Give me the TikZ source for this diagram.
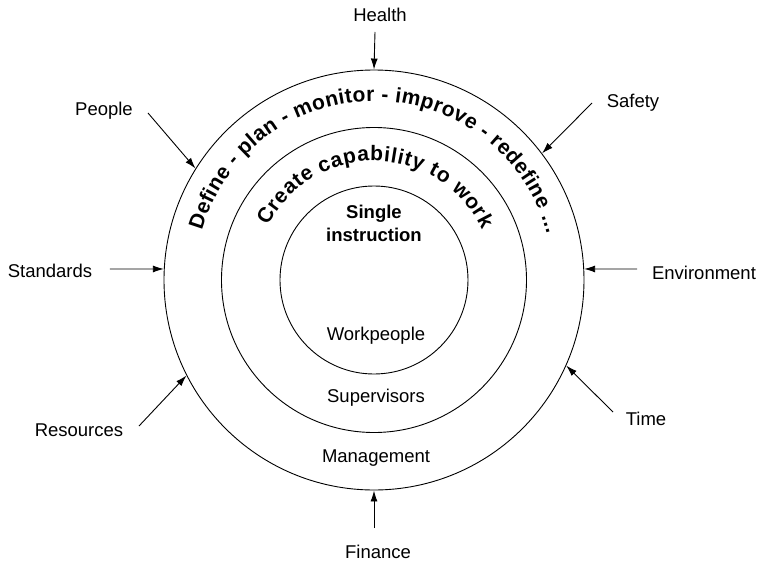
\documentclass[tikz,border=0pt]{standalone}
\usepackage{fontspec}
\setmainfont{Liberation Sans}
\usetikzlibrary{arrows.meta, decorations.text}

\begin{document}
\begin{tikzpicture}[
    x=1pt, y=1pt,
    font=\fontsize{18.5}{22}\selectfont,
    ring/.style={draw, circle, line width=0.9pt, inner sep=0pt},
    lbl/.style={inner sep=1pt},
    arr/.style={-{Latex[length=11pt, width=7pt]}, line width=0.9pt}
  ]
    \useasboundingbox (-374,-283) rectangle (384,280);
    % the three rings
    \node[ring, minimum size=420pt] (outer) at (0,0) {};
    \node[ring, minimum size=305pt] (middle) at (0,0) {};
    \node[ring, minimum size=188pt] (inner) at (0,0) {};

    % curved titles
    \path[decorate, decoration={text along path, text align=fit to path,
        text={|\fontsize{21}{24}\selectfont\bfseries|Define - plan - monitor - improve - redefine ...}}]
      (164:179) arc[start angle=164, end angle=15, radius=179];
    \path[decorate, decoration={text along path, text align=fit to path,
        text={|\fontsize{21}{24}\selectfont\bfseries|Create capability to work}}]
      (153:119) arc[start angle=153, end angle=25, radius=119];

    \node[font=\fontsize{18.5}{23}\selectfont\bfseries, align=center] (single) at (0,57) {Single\\instruction};
    \node (work) at (2,-56) {Workpeople};
    \node (sup) at (2,-118) {Supervisors};
    \node (mgmt) at (2,-178) {Management};

    % influences
    \node[lbl] (health) at (6,265) {Health};
    \node[lbl] (safety) at (259,177) {Safety};
    \node[lbl] (env) at (330,7) {Environment};
    \node[lbl] (time) at (272,-139) {Time};
    \node[lbl] (finance) at (4,-272) {Finance};
    \node[lbl] (res) at (-295,-150) {Resources};
    \node[lbl] (std) at (-324,9) {Standards};
    \node[lbl] (people) at (-270,169) {People};

    \coordinate (health-s) at (1,248);
    \coordinate (safety-s) at (218,177);
    \coordinate (env-s) at (263,11);
    \coordinate (time-s) at (239,-132);
    \coordinate (finance-s) at (0,-248);
    \coordinate (res-s) at (-235,-146);
    \coordinate (std-s) at (-264,11);
    \coordinate (people-s) at (-226,167);

    \draw[arr] (health-s) -- (outer.90);
    \draw[arr] (safety-s) -- (outer.37);
    \draw[arr] (env-s) -- (outer.3);
    \draw[arr] (time-s) -- (outer.336);
    \draw[arr] (finance-s) -- (outer.270);
    \draw[arr] (res-s) -- (outer.207);
    \draw[arr] (std-s) -- (outer.177);
    \draw[arr] (people-s) -- (outer.148);
\end{tikzpicture}
\end{document}
